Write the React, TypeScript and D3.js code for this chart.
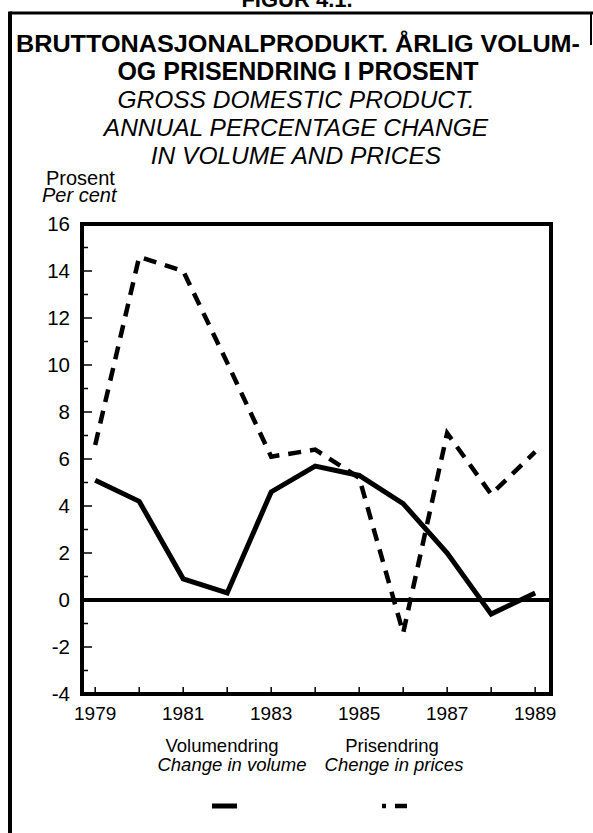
import React from "react";
import * as d3 from "d3";

const years = [1979, 1980, 1981, 1982, 1983, 1984, 1985, 1986, 1987, 1988, 1989];
const volume = [5.1, 4.2, 0.9, 0.3, 4.6, 5.7, 5.3, 4.1, 2.0, -0.6, 0.3];
const prices = [6.6, 14.6, 14.0, 10.1, 6.1, 6.4, 5.2, -1.4, 7.1, 4.5, 6.3];
const yMajorTicks = [-4, -2, 0, 2, 4, 6, 8, 10, 12, 14, 16];
const yMinorTicks = [-3, -1, 1, 3, 5, 7, 9, 11, 13, 15];
const xTickLabels = [1979, 1981, 1983, 1985, 1987, 1989];

const titleBold = ["BRUTTONASJONALPRODUKT. ÅRLIG VOLUM-", "OG PRISENDRING I PROSENT"];
const titleItalic = ["GROSS DOMESTIC PRODUCT.", "ANNUAL PERCENTAGE CHANGE", "IN VOLUME AND PRICES"];

const FONT = "'Liberation Sans', Arial, Helvetica, sans-serif";

export default function App() {
  const W = 593, H = 833;
  const left = 82, right = 551, top = 224, bottom = 694;
  const x = d3.scaleLinear().domain([1978.7, 1989.36]).range([left, right]);
  const y = d3.scaleLinear().domain([-4, 16]).range([bottom, top]);
  const line = d3.line<number>().x((_, i) => x(years[i])).y((d) => y(d));

  return (
    <svg width={W} height={H} style={{ position: "absolute", left: 0, top: 0, background: "#fff" }} fontFamily={FONT}>
      <rect x={0} y={0} width={W} height={H} fill="#fff" />
      {/* cut-off figure label */}
      <text x={297} y={7} textAnchor="middle" fontSize={22} fontWeight="bold">FIGUR 4.1.</text>
      {/* outer frame */}
      <line x1={10} y1={13} x2={593} y2={13} stroke="#000" strokeWidth={3} />
      <line x1={10} y1={11.5} x2={10} y2={833} stroke="#000" strokeWidth={4} />
      <line x1={591} y1={13} x2={591} y2={45} stroke="#000" strokeWidth={2} />

      {/* titles */}
      <text x={16} y={52} fontSize={24.5} fontWeight="bold" textLength={564} lengthAdjust="spacingAndGlyphs">{titleBold[0]}</text>
      <text x={298} y={80} fontSize={25} fontWeight="bold" textAnchor="middle">{titleBold[1]}</text>
      {titleItalic.map((t, i) => (
        <text key={t} x={296} y={108 + i * 28} fontSize={24.5} fontStyle="italic" textAnchor="middle">{t}</text>
      ))}
      <text x={46} y={185} fontSize={20}>Prosent</text>
      <text x={42} y={202} fontSize={20} fontStyle="italic">Per cent</text>

      {/* ticks */}
      {yMinorTicks.map((t) => (
        <line key={"m" + t} x1={left} x2={left + 6} y1={y(t)} y2={y(t)} stroke="#000" strokeWidth={1.5} />
      ))}
      {yMajorTicks.map((t) => (
        <line key={"M" + t} x1={left} x2={left + 10} y1={y(t)} y2={y(t)} stroke="#000" strokeWidth={1.5} />
      ))}
      {years.map((yr) => (
        <line key={"x" + yr} x1={x(yr)} x2={x(yr)} y1={bottom} y2={bottom - 7} stroke="#000" strokeWidth={1.5} />
      ))}
      {yMajorTicks.map((t) => (
        <text key={"l" + t} x={70} y={y(t) + 7} fontSize={20.5} textAnchor="end">{t}</text>
      ))}
      {xTickLabels.map((yr) => (
        <text key={"xl" + yr} x={x(yr)} y={720} fontSize={19} textAnchor="middle">{yr}</text>
      ))}

      {/* plot frame and zero line */}
      <rect x={left} y={top} width={right - left} height={bottom - top} fill="none" stroke="#000" strokeWidth={4} />
      <line x1={left} x2={right} y1={y(0)} y2={y(0)} stroke="#000" strokeWidth={4} />

      {/* series */}
      <path d={line(volume) || ""} fill="none" stroke="#000" strokeWidth={5} strokeLinejoin="miter" />
      <path d={line(prices) || ""} fill="none" stroke="#000" strokeWidth={4.5} strokeDasharray="13,9" />

      {/* legend */}
      <text x={222} y={752} fontSize={18.5} textAnchor="middle">Volumendring</text>
      <text x={232} y={771} fontSize={18.5} fontStyle="italic" textAnchor="middle">Change in volume</text>
      <line x1={212} x2={237} y1={806} y2={806} stroke="#000" strokeWidth={5} />
      <text x={392} y={752} fontSize={18.5} textAnchor="middle">Prisendring</text>
      <text x={394} y={771} fontSize={18.5} fontStyle="italic" textAnchor="middle">Chenge in prices</text>
      <line x1={382} x2={407} y1={806} y2={806} stroke="#000" strokeWidth={4.5} strokeDasharray="4,9,13" />
    </svg>
  );
}
